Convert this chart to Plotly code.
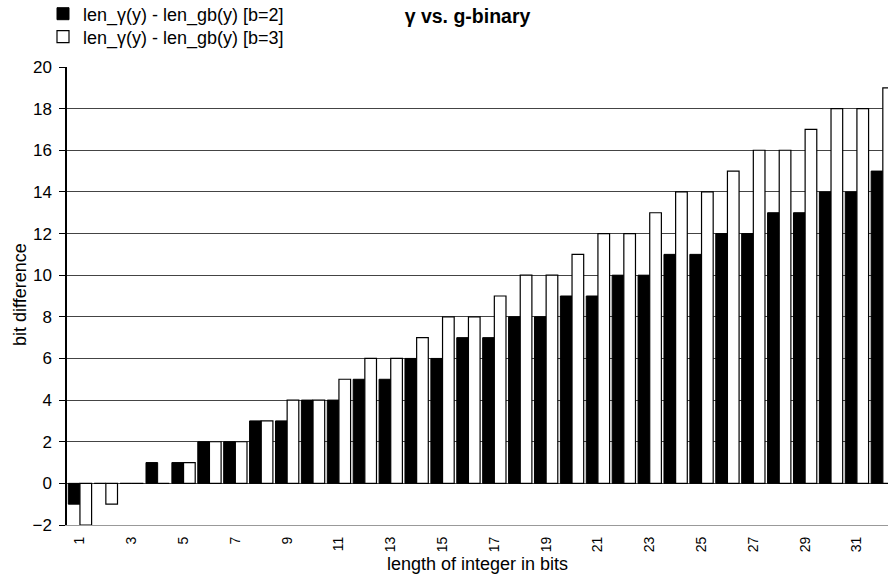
import plotly.graph_objects as go

categories = list(range(1, 33))
diff_b2 = [-1, 0, 0, 1, 1, 2, 2, 3, 3, 4, 4, 5, 5, 6, 6, 7, 7, 8, 8, 9, 9, 10, 10, 11, 11, 12, 12, 13, 13, 14, 14, 15]
diff_b3 = [-2, -1, 0, 0, 1, 2, 2, 3, 4, 4, 5, 6, 6, 7, 8, 8, 9, 10, 10, 11, 12, 12, 13, 14, 14, 15, 16, 16, 17, 18, 18, 19]
x_tick_vals = list(range(1, 33, 2))
x_tick_text = [str(v) for v in x_tick_vals]
boundary_ticks = [c + 0.5 for c in range(0, 32)]

FONT = "Liberation Sans, Arial, sans-serif"
W, H = 888, 582
ML, MR, MT, MB = 67, 0, 67, 57

fig = go.Figure()
fig.add_trace(go.Bar(
    x=categories, y=diff_b2, name="len_γ(y) - len_gb(y) [b=2]",
    marker=dict(color="black", line=dict(color="black", width=1)),
    legend="legend",
))
fig.add_trace(go.Bar(
    x=categories, y=diff_b3, name="len_γ(y) - len_gb(y) [b=3]",
    marker=dict(color="white", line=dict(color="black", width=1.2)),
    legend="legend2",
))

x_range = [0.5, 32.2]

legend_common = dict(xref="container", yref="container", xanchor="left", yanchor="middle",
                     bgcolor="rgba(0,0,0,0)", borderwidth=0,
                     font=dict(family=FONT, size=18, color="black"), itemclick=False)

plot_w = W - ML - MR
plot_h = H - MT - MB

fig.update_layout(
    width=W, height=H, autosize=False,
    paper_bgcolor="white", plot_bgcolor="white",
    margin=dict(l=ML, r=MR, t=MT, b=MB, pad=0, autoexpand=False),
    font=dict(family=FONT, size=17, color="black"),
    barmode="group", bargap=0.1, bargroupgap=0,
    title=dict(text="<b>γ vs. g-binary</b>", x=467.5 / W, xref="container", xanchor="center",
               y=1 - 16 / H, yref="container", yanchor="middle",
               font=dict(family=FONT, size=19.5, color="black")),
    legend=dict(x=43 / W, y=1 - 14 / H, **legend_common),
    legend2=dict(x=43 / W, y=1 - 37 / H, **legend_common),
    showlegend=True,
    xaxis=dict(range=x_range, tickmode="array", tickvals=x_tick_vals, ticktext=x_tick_text,
               tickangle=-90, tickfont=dict(size=14), ticks="", ticklabelstandoff=5,
               showline=True, linecolor="#999999", linewidth=1, showgrid=False,
               zeroline=False, automargin=False,
               title=dict(text="length of integer in bits", font=dict(size=18), standoff=6)),
    xaxis2=dict(range=x_range, overlaying="x", anchor="free", position=2 / 22,
                tickmode="array", tickvals=boundary_ticks, ticks="outside", ticklen=5,
                tickcolor="black", showticklabels=False, showline=True, linecolor="black",
                linewidth=1, showgrid=False, zeroline=False, automargin=False),
    yaxis=dict(range=[-2, 20], dtick=2, tick0=0, ticks="outside", ticklen=6, tickcolor="black",
               tickfont=dict(size=17), showline=True, linecolor="black", linewidth=1.5,
               showgrid=True, gridcolor="#444444", gridwidth=1, zeroline=False,
               automargin=False, ticklabelstandoff=4),
    annotations=[dict(text="bit difference", textangle=-90, showarrow=False,
                      xref="paper", yref="paper",
                      x=(20 - ML) / plot_w, y=(H - MB - 295) / plot_h,
                      xanchor="center", yanchor="middle",
                      font=dict(family=FONT, size=18, color="black"))],
)

fig.write_html("out.html", config={"displayModeBar": False},
               post_script="document.body.style.margin='0';")
